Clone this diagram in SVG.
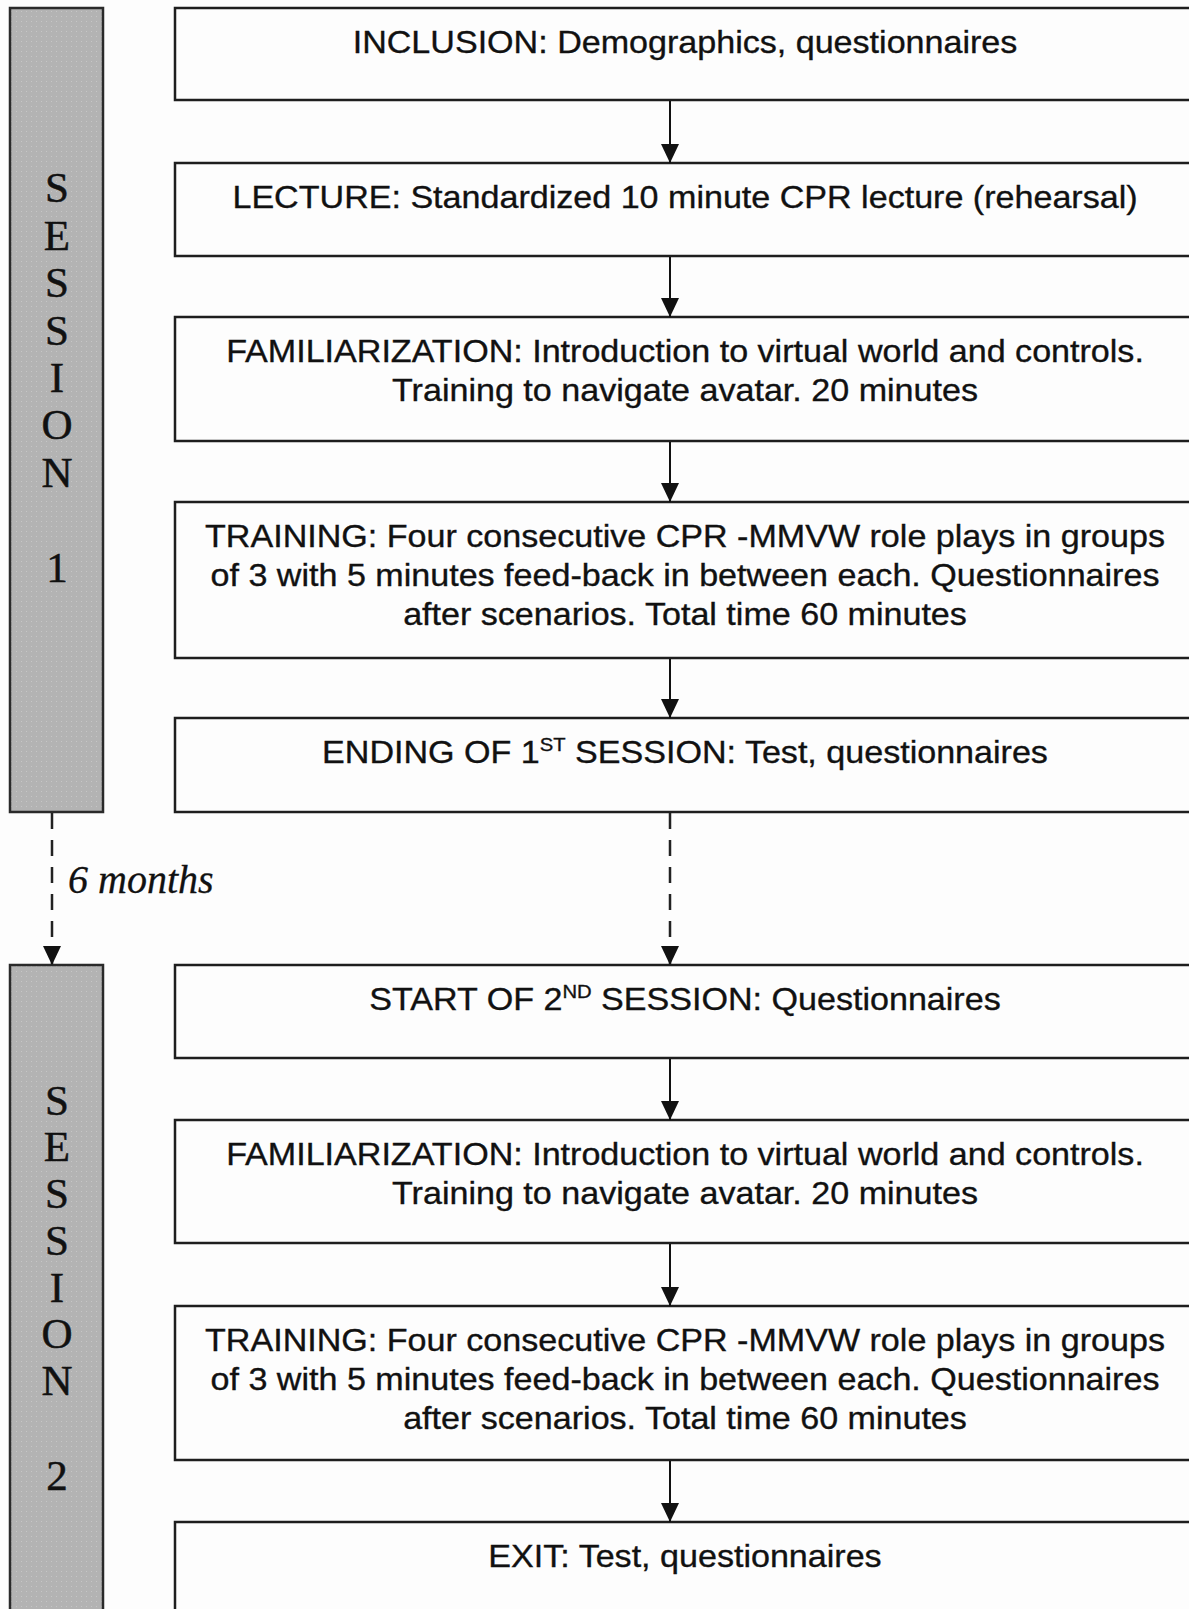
<svg xmlns="http://www.w3.org/2000/svg" width="1189" height="1609" viewBox="0 0 1189 1609">
<defs>
<style>
.box{fill:#fdfdfd;stroke:#1e1e1e;stroke-width:2.5}
.bar{fill:url(#dots);stroke:#2a2a2a;stroke-width:2.5}
.t{font-family:"Liberation Sans",Arial,sans-serif;font-size:32px;fill:#111;stroke:#111;stroke-width:0.35;text-anchor:middle}
.sup{font-size:19px}
.v{font-family:"Liberation Serif","Times New Roman",serif;font-size:43px;fill:#111;stroke:#111;stroke-width:0.5;text-anchor:middle}
.lbl{font-family:"Liberation Serif","Times New Roman",serif;font-style:italic;font-size:40px;fill:#111;stroke:#111;stroke-width:0.3}
.arr{stroke:#111;stroke-width:2;fill:none;marker-end:url(#ah)}
.dash{stroke:#222;stroke-width:2.5;fill:none;stroke-dasharray:16 11;marker-end:url(#ah)}
</style>
<pattern id="dots" width="5" height="5" patternUnits="userSpaceOnUse">
<rect width="5" height="5" fill="#b3b3b3"/>
<rect x="1" y="1" width="1" height="1" fill="#c6c6c6"/>
</pattern>
<marker id="ah" markerUnits="userSpaceOnUse" markerWidth="19" markerHeight="20" refX="19" refY="9" orient="auto" viewBox="0 0 19 18">
<path d="M0,0 L19,9 L0,18 Z" fill="#111"/>
</marker>
</defs>
<rect width="1189" height="1609" fill="#fdfdfd"/>

<g id="session1">
<rect class="bar" x="10" y="8" width="93" height="804"/>
<text class="v" x="57" y="202">S</text>
<text class="v" x="57" y="250">E</text>
<text class="v" x="57" y="297">S</text>
<text class="v" x="57" y="345">S</text>
<text class="v" x="57" y="392">I</text>
<text class="v" x="57" y="439">O</text>
<text class="v" x="57" y="487">N</text>
<text class="v" x="57" y="582">1</text>
</g>

<g id="session2">
<rect class="bar" x="10" y="965" width="93" height="660"/>
<text class="v" x="57" y="1115">S</text>
<text class="v" x="57" y="1161">E</text>
<text class="v" x="57" y="1208">S</text>
<text class="v" x="57" y="1255">S</text>
<text class="v" x="57" y="1302">I</text>
<text class="v" x="57" y="1348">O</text>
<text class="v" x="57" y="1395">N</text>
<text class="v" x="57" y="1490">2</text>
</g>

<g id="inclusion">
<rect class="box" x="175" y="8" width="1020" height="92"/>
<text class="t" transform="translate(685,53) scale(1.065,1)">INCLUSION: Demographics, questionnaires</text>
</g>

<g id="lecture">
<rect class="box" x="175" y="163" width="1020" height="93"/>
<text class="t" transform="translate(685,208) scale(1.065,1)">LECTURE: Standardized 10 minute CPR lecture (rehearsal)</text>
</g>

<g id="familiarization1">
<rect class="box" x="175" y="317" width="1020" height="124"/>
<text class="t" transform="translate(685,362) scale(1.065,1)">FAMILIARIZATION: Introduction to virtual world and controls.</text>
<text class="t" transform="translate(685,401) scale(1.065,1)">Training to navigate avatar. 20 minutes</text>
</g>

<g id="training1">
<rect class="box" x="175" y="502" width="1020" height="156"/>
<text class="t" transform="translate(685,547) scale(1.065,1)">TRAINING: Four consecutive CPR -MMVW role plays in groups</text>
<text class="t" transform="translate(685,586) scale(1.065,1)">of 3 with 5 minutes feed-back in between each. Questionnaires</text>
<text class="t" transform="translate(685,625) scale(1.065,1)">after scenarios. Total time 60 minutes</text>
</g>

<g id="ending1">
<rect class="box" x="175" y="718" width="1020" height="94"/>
<text class="t" transform="translate(685,763) scale(1.065,1)">ENDING OF 1<tspan class="sup" dy="-12">ST</tspan><tspan dy="12"> SESSION: Test, questionnaires</tspan></text>
</g>

<g id="start2">
<rect class="box" x="175" y="965" width="1020" height="93"/>
<text class="t" transform="translate(685,1010) scale(1.065,1)">START OF 2<tspan class="sup" dy="-12">ND</tspan><tspan dy="12"> SESSION: Questionnaires</tspan></text>
</g>

<g id="familiarization2">
<rect class="box" x="175" y="1120" width="1020" height="123"/>
<text class="t" transform="translate(685,1165) scale(1.065,1)">FAMILIARIZATION: Introduction to virtual world and controls.</text>
<text class="t" transform="translate(685,1204) scale(1.065,1)">Training to navigate avatar. 20 minutes</text>
</g>

<g id="training2">
<rect class="box" x="175" y="1306" width="1020" height="154"/>
<text class="t" transform="translate(685,1351) scale(1.065,1)">TRAINING: Four consecutive CPR -MMVW role plays in groups</text>
<text class="t" transform="translate(685,1390) scale(1.065,1)">of 3 with 5 minutes feed-back in between each. Questionnaires</text>
<text class="t" transform="translate(685,1429) scale(1.065,1)">after scenarios. Total time 60 minutes</text>
</g>

<g id="exit">
<rect class="box" x="175" y="1522" width="1020" height="100"/>
<text class="t" transform="translate(685,1567) scale(1.065,1)">EXIT: Test, questionnaires</text>
</g>

<g id="connectors">
<line class="arr" x1="670" y1="101" x2="670" y2="163"/>
<line class="arr" x1="670" y1="257" x2="670" y2="317"/>
<line class="arr" x1="670" y1="442" x2="670" y2="502"/>
<line class="arr" x1="670" y1="659" x2="670" y2="718"/>
<line class="dash" x1="670" y1="813" x2="670" y2="965"/>
<line class="dash" x1="52" y1="813" x2="52" y2="965"/>
<line class="arr" x1="670" y1="1059" x2="670" y2="1120"/>
<line class="arr" x1="670" y1="1244" x2="670" y2="1306"/>
<line class="arr" x1="670" y1="1461" x2="670" y2="1522"/>
<text class="lbl" x="68" y="893">6 months</text>
</g>
</svg>
